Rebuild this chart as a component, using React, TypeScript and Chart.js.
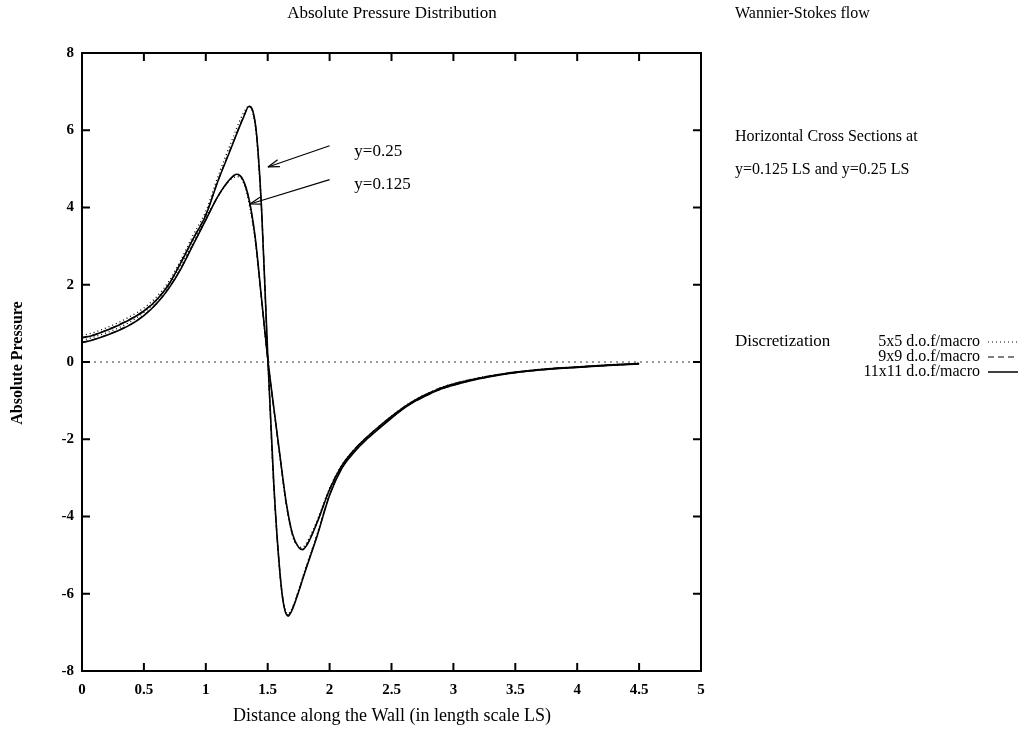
import { useEffect, useRef } from 'react';
import { Chart, registerables } from 'chart.js';

Chart.register(...registerables);

const SERIF = '"Liberation Serif", "DejaVu Serif", serif';

// Tick values / labels
const xTickValues = [0, 0.5, 1, 1.5, 2, 2.5, 3, 3.5, 4, 4.5, 5];
const xTickLabels = ['0', '0.5', '1', '1.5', '2', '2.5', '3', '3.5', '4', '4.5', '5'];
const yTickValues = [-8, -6, -4, -2, 0, 2, 4, 6, 8];
const yTickLabels = ['-8', '-6', '-4', '-2', '0', '2', '4', '6', '8'];

// Cross section y = 0.25 LS
const xHigh = [0, 0.1, 0.2, 0.3, 0.4, 0.5, 0.6, 0.7, 0.8, 0.9, 1.0, 1.1, 1.2, 1.3, 1.35, 1.38, 1.41, 1.45, 1.5, 1.55, 1.6, 1.63, 1.665, 1.7, 1.75, 1.8, 1.9, 2.0, 2.1, 2.2, 2.3, 2.4, 2.5, 2.6, 2.7, 2.8, 2.9, 3.0, 3.2, 3.4, 3.6, 3.8, 4.0, 4.25, 4.5];
const high5x5 = [0.68, 0.77, 0.89, 1.03, 1.2, 1.4, 1.68, 2.08, 2.65, 3.3, 3.9, 4.82, 5.65, 6.42, 6.63, 6.45, 5.8, 3.9, 0.1, -3.3, -5.55, -6.3, -6.52, -6.35, -5.9, -5.4, -4.45, -3.42, -2.73, -2.32, -1.99, -1.71, -1.44, -1.19, -0.99, -0.83, -0.69, -0.59, -0.43, -0.31, -0.23, -0.17, -0.13, -0.08, -0.04];
const high9x9 = [0.63, 0.71, 0.83, 0.97, 1.13, 1.33, 1.61, 2.01, 2.59, 3.21, 3.82, 4.71, 5.52, 6.31, 6.6, 6.48, 5.88, 3.98, 0.18, -3.22, -5.5, -6.28, -6.55, -6.38, -5.93, -5.43, -4.48, -3.44, -2.74, -2.33, -2.0, -1.72, -1.45, -1.2, -1.0, -0.84, -0.7, -0.6, -0.44, -0.32, -0.24, -0.18, -0.14, -0.09, -0.05];
const high11x11 = [0.62, 0.7, 0.82, 0.96, 1.12, 1.32, 1.6, 2.0, 2.58, 3.2, 3.8, 4.7, 5.5, 6.3, 6.62, 6.5, 5.9, 4.0, 0.2, -3.2, -5.5, -6.3, -6.58, -6.4, -5.95, -5.45, -4.5, -3.45, -2.75, -2.33, -2.0, -1.72, -1.45, -1.2, -1.0, -0.84, -0.7, -0.6, -0.44, -0.32, -0.24, -0.18, -0.14, -0.09, -0.05];

// Cross section y = 0.125 LS
const xLow = [0, 0.1, 0.2, 0.3, 0.4, 0.5, 0.6, 0.7, 0.8, 0.9, 1.0, 1.1, 1.2, 1.25, 1.3, 1.35, 1.4, 1.45, 1.5, 1.55, 1.6, 1.65, 1.7, 1.75, 1.78, 1.82, 1.9, 2.0, 2.1, 2.2, 2.3, 2.4, 2.5, 2.6, 2.7, 2.8, 2.9, 3.0, 3.2, 3.4, 3.6, 3.8, 4.0, 4.25, 4.5];
const low5x5 = [0.56, 0.65, 0.76, 0.89, 1.06, 1.28, 1.58, 1.98, 2.5, 3.1, 3.72, 4.3, 4.72, 4.8, 4.68, 4.1, 3.1, 1.6, 0.05, -1.25, -2.5, -3.7, -4.5, -4.78, -4.8, -4.65, -4.1, -3.27, -2.66, -2.26, -1.94, -1.66, -1.4, -1.16, -0.96, -0.8, -0.66, -0.56, -0.41, -0.3, -0.22, -0.16, -0.12, -0.07, -0.03];
const low9x9 = [0.51, 0.59, 0.7, 0.83, 0.99, 1.21, 1.51, 1.91, 2.43, 3.06, 3.68, 4.3, 4.74, 4.85, 4.71, 4.18, 3.18, 1.63, 0.08, -1.22, -2.47, -3.66, -4.46, -4.8, -4.85, -4.71, -4.14, -3.29, -2.68, -2.27, -1.95, -1.67, -1.41, -1.17, -0.97, -0.81, -0.67, -0.57, -0.42, -0.31, -0.23, -0.17, -0.13, -0.08, -0.04];
const low11x11 = [0.5, 0.58, 0.69, 0.82, 0.98, 1.2, 1.5, 1.9, 2.42, 3.05, 3.68, 4.3, 4.75, 4.86, 4.72, 4.2, 3.2, 1.65, 0.1, -1.2, -2.45, -3.65, -4.45, -4.8, -4.86, -4.72, -4.15, -3.3, -2.68, -2.27, -1.95, -1.67, -1.41, -1.17, -0.97, -0.81, -0.67, -0.57, -0.42, -0.31, -0.23, -0.17, -0.13, -0.08, -0.04];

// Zero axis
const zeroX = [0, 5];
const zeroY = [0, 0];

// Legend entries
const legendTitle = 'Discretization';
const legendLabels = ['5x5 d.o.f/macro', '9x9 d.o.f/macro', '11x11 d.o.f/macro'];
const legendDash: number[][] = [[1, 3], [6, 4], []];

const pts = (xs: number[], ys: number[]) => xs.map((v, i) => ({ x: v, y: ys[i] }));

const decorPlugin = {
  id: 'decor',
  afterDraw(chart: any) {
    const { ctx, chartArea: a, scales } = chart;
    const sx = scales.x;
    const sy = scales.y;
    const line = (x1: number, y1: number, x2: number, y2: number) => {
      ctx.beginPath();
      ctx.moveTo(x1, y1);
      ctx.lineTo(x2, y2);
      ctx.stroke();
    };
    ctx.save();
    ctx.strokeStyle = '#000';
    ctx.fillStyle = '#000';
    ctx.lineWidth = 2;
    ctx.setLineDash([]);
    ctx.strokeRect(a.left, a.top, a.right - a.left, a.bottom - a.top);
    const tl = 8;
    for (const v of xTickValues) {
      const px = sx.getPixelForValue(v);
      line(px, a.bottom, px, a.bottom - tl);
      line(px, a.top, px, a.top + tl);
    }
    for (const v of yTickValues) {
      const py = sy.getPixelForValue(v);
      line(a.left, py, a.left + tl, py);
      line(a.right, py, a.right - tl, py);
    }

    // titles and texts
    ctx.textBaseline = 'middle';
    ctx.font = `17px ${SERIF}`;
    ctx.textAlign = 'center';
    ctx.fillText('Absolute Pressure Distribution', 392, 14);
    ctx.font = `18px ${SERIF}`;
    ctx.fillText('Distance along the Wall (in length scale LS)', 392, 716);
    ctx.textAlign = 'left';
    ctx.font = `16px ${SERIF}`;
    ctx.fillText('Wannier-Stokes flow', 735, 14);
    ctx.fillText('Horizontal Cross Sections at', 735, 137);
    ctx.fillText('y=0.125 LS and y=0.25 LS', 735, 170);

    // y axis title
    ctx.save();
    ctx.translate(18, 363);
    ctx.rotate(-Math.PI / 2);
    ctx.textAlign = 'center';
    ctx.font = `bold 16px ${SERIF}`;
    ctx.fillText('Absolute Pressure', 0, 0);
    ctx.restore();

    // annotations with arrows
    const arrow = (x1: number, y1: number, x2: number, y2: number) => {
      const p1x = sx.getPixelForValue(x1), p1y = sy.getPixelForValue(y1);
      const p2x = sx.getPixelForValue(x2), p2y = sy.getPixelForValue(y2);
      ctx.lineWidth = 1.2;
      line(p1x, p1y, p2x, p2y);
      const ang = Math.atan2(p2y - p1y, p2x - p1x);
      const h = 12;
      for (const d of [0.3, -0.3]) {
        line(p2x, p2y, p2x - h * Math.cos(ang + d), p2y - h * Math.sin(ang + d));
      }
    };
    arrow(2.0, 5.6, 1.502, 5.05);
    arrow(2.0, 4.72, 1.357, 4.09);
    ctx.textAlign = 'left';
    ctx.font = `17px ${SERIF}`;
    ctx.fillText('y=0.25', sx.getPixelForValue(2.2), sy.getPixelForValue(5.46));
    ctx.fillText('y=0.125', sx.getPixelForValue(2.2), sy.getPixelForValue(4.6));

    // legend
    const ly = [342, 357, 372];
    ctx.font = `17px ${SERIF}`;
    ctx.textAlign = 'left';
    ctx.fillText(legendTitle, 735, ly[0]);
    ctx.font = `16px ${SERIF}`;
    ctx.textAlign = 'right';
    legendLabels.forEach((lab, i) => {
      ctx.fillText(lab, 980, ly[i]);
      ctx.lineWidth = i === 2 ? 1.5 : 1.2;
      ctx.setLineDash(legendDash[i]);
      line(988, ly[i], 1018, ly[i]);
      ctx.setLineDash([]);
    });
    ctx.restore();
  },
};

export default function App() {
  const ref = useRef<HTMLCanvasElement | null>(null);
  useEffect(() => {
    if (!ref.current) return;
    const mk = (label: string, xs: number[], ys: number[], dash: number[], w: number) => ({
      label,
      data: pts(xs, ys),
      borderColor: '#000',
      backgroundColor: '#000',
      borderWidth: w,
      borderDash: dash,
      pointRadius: 0,
      showLine: true,
      fill: false,
      cubicInterpolationMode: 'monotone' as const,
    });
    const chart = new Chart(ref.current, {
      type: 'scatter',
      data: {
        datasets: [
          { ...mk('zero', zeroX, zeroY, [2, 4], 1), borderColor: '#333' },
          mk('5x5 y=0.25', xHigh, high5x5, [1, 3], 1.3),
          mk('5x5 y=0.125', xLow, low5x5, [1, 3], 1.3),
          mk('9x9 y=0.25', xHigh, high9x9, [6, 4], 1.2),
          mk('9x9 y=0.125', xLow, low9x9, [6, 4], 1.2),
          mk('11x11 y=0.25', xHigh, high11x11, [], 1.6),
          mk('11x11 y=0.125', xLow, low11x11, [], 1.6),
        ],
      },
      options: {
        animation: false,
        responsive: false,
        devicePixelRatio: 1,
        layout: { padding: { top: 53, right: 322, left: 0, bottom: 0 } },
        plugins: { legend: { display: false }, tooltip: { enabled: false }, title: { display: false } },
        scales: {
          x: {
            type: 'linear',
            min: 0,
            max: 5,
            afterBuildTicks: (s: any) => { s.ticks = xTickValues.map((v) => ({ value: v })); },
            afterFit: (s: any) => { s.height = 61; },
            ticks: {
              callback: (v: any) => xTickLabels[xTickValues.indexOf(Number(v))] ?? '',
              color: '#000',
              font: { family: SERIF, size: 15, weight: 'bold' },
              padding: 10,
              maxRotation: 0,
              autoSkip: false,
            },
            grid: { display: false, drawTicks: false },
            border: { display: false },
          },
          y: {
            type: 'linear',
            min: -8,
            max: 8,
            afterBuildTicks: (s: any) => { s.ticks = yTickValues.map((v) => ({ value: v })); },
            afterFit: (s: any) => { s.width = 82; },
            ticks: {
              callback: (v: any) => yTickLabels[yTickValues.indexOf(Number(v))] ?? '',
              color: '#000',
              font: { family: SERIF, size: 15, weight: 'bold' },
              padding: 8,
              autoSkip: false,
            },
            grid: { display: false, drawTicks: false },
            border: { display: false },
          },
        },
      },
      plugins: [decorPlugin],
    } as any);
    return () => chart.destroy();
  }, []);
  return (
    <div style={{ position: 'fixed', left: 0, top: 0, width: 1023, height: 732, background: '#fff' }}>
      <canvas ref={ref} width={1023} height={732} style={{ display: 'block' }} />
    </div>
  );
}
